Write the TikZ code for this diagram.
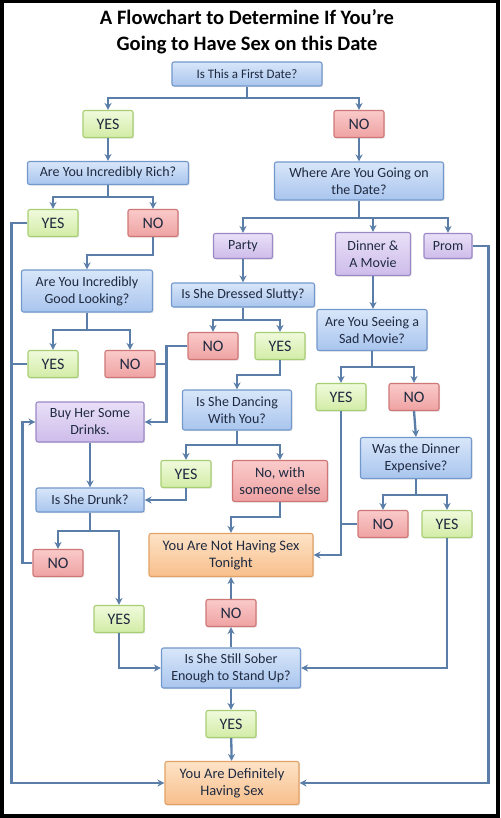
\documentclass[tikz,border=0pt]{standalone}
\usepackage{fontspec}
\setmainfont{Carlito}
\usetikzlibrary{arrows.meta,positioning,shadows}

\definecolor{txt}{HTML}{1F2A40}
\definecolor{wire}{HTML}{5A7EA8}
\definecolor{qtop}{HTML}{D8E6F9}
\definecolor{qbot}{HTML}{A9C5EE}
\definecolor{qline}{HTML}{7398CB}
\definecolor{gtop}{HTML}{F0FADC}
\definecolor{gbot}{HTML}{D2ECA6}
\definecolor{gline}{HTML}{A8CE74}
\definecolor{rtop}{HTML}{FACACA}
\definecolor{rbot}{HTML}{EFA2A2}
\definecolor{rline}{HTML}{CF7777}
\definecolor{ptop}{HTML}{E9E0F7}
\definecolor{pbot}{HTML}{CDBCEA}
\definecolor{pline}{HTML}{9C88C6}
\definecolor{otop}{HTML}{FDE3C7}
\definecolor{obot}{HTML}{F8BF8C}
\definecolor{oline}{HTML}{E3A265}

\begin{document}
\begin{tikzpicture}[
    x=1pt, y=1pt,
    base/.style={rectangle, rounded corners=2pt, line width=1.1pt, align=center,
                 text=txt, inner sep=1pt, font=\fontsize{14}{17}\selectfont,
                 drop shadow={opacity=0.2, shadow xshift=1.2pt, shadow yshift=-1.2pt}},
    qbox/.style={base, draw=qline, top color=qtop, bottom color=qbot},
    yesbox/.style={base, draw=gline, top color=gtop, bottom color=gbot,
                   minimum width=50, minimum height=27, font=\fontsize{16}{19}\selectfont},
    nobox/.style={base, draw=rline, top color=rtop, bottom color=rbot,
                  minimum width=50, minimum height=27, font=\fontsize{16}{19}\selectfont},
    actbox/.style={base, draw=pline, top color=ptop, bottom color=pbot},
    endbox/.style={base, draw=oline, top color=otop, bottom color=obot,
                   font=\fontsize{14.5}{17}\selectfont},
    sarr/.style={-{Stealth[length=7pt, width=7pt]}, line width=2.3pt, draw=wire},
    sline/.style={line width=2.3pt, draw=wire},
]

%% ── Frame ─────────────────────────────────────────────────────────────────────
\useasboundingbox (0,0) rectangle (500,-818);
\fill[black] (0,0) rectangle (500,-818);
\fill[white] (4,-3) rectangle (496,-814);

\node[font=\bfseries\fontsize{20.5}{26}\selectfont, align=center] (title) at (247,-32)
      {A Flowchart to Determine If You’re\\Going to Have Sex on this Date};

%% ── Top of the chart ──────────────────────────────────────────────────────────
\node[qbox, minimum width=150, minimum height=24, font=\fontsize{13}{16}\selectfont]
      (first) at (247,-74) {Is This a First Date?};
\node[yesbox] (y1) at (108,-124) {YES};
\node[nobox]  (n1) at (359,-124) {NO};

\node[qbox, minimum width=161, minimum height=23] (rich)  at (108,-173) {Are You Incredibly Rich?};
\node[qbox, minimum width=169, minimum height=38] (where) at (359,-181) {Where Are You Going on\\the Date?};

% Left branch
\node[yesbox] (y2) at (53,-223)  {YES};
\node[nobox]  (n2) at (153,-223) {NO};
\node[qbox, minimum width=131, minimum height=42] (good) at (87,-291) {Are You Incredibly\\Good Looking?};
\node[yesbox] (y3) at (53,-364)  {YES};
\node[nobox]  (n3) at (130,-364) {NO};

% Right branch
\node[actbox, minimum width=59, minimum height=25] (party)  at (243,-246) {Party};
\node[actbox, minimum width=75, minimum height=43] (dinner) at (373,-254) {Dinner \&\\A Movie};
\node[actbox, minimum width=48, minimum height=25] (prom)   at (448,-246) {Prom};

\node[qbox, minimum width=143, minimum height=24] (slutty) at (243,-295) {Is She Dressed Slutty?};
\node[qbox, minimum width=110, minimum height=41] (sad)    at (372,-330) {Are You Seeing a\\Sad Movie?};

\node[nobox]  (n4) at (213,-346) {NO};
\node[yesbox] (y4) at (280,-346) {YES};
\node[yesbox] (y5) at (341,-397) {YES};
\node[nobox]  (n5) at (414,-397) {NO};

%% ── Middle ────────────────────────────────────────────────────────────────────
\node[actbox, minimum width=108, minimum height=40] (drinks)  at (90,-422)  {Buy Her Some\\Drinks.};
\node[qbox,   minimum width=109, minimum height=40] (dancing) at (237,-410) {Is She Dancing\\With You?};
\node[yesbox] (y6) at (186,-474) {YES};
\node[nobox, minimum width=95, minimum height=41, font=\fontsize{14.5}{17}\selectfont]
      (n6) at (280,-481) {No, with\\someone else};
\node[qbox, minimum width=108, minimum height=24] (drunk)     at (90,-500)  {Is She Drunk?};
\node[qbox, minimum width=111, minimum height=41] (expensive) at (416,-458) {Was the Dinner\\Expensive?};
\node[nobox]  (n7) at (383,-524) {NO};
\node[yesbox] (y7) at (447,-524) {YES};

%% ── Bottom ────────────────────────────────────────────────────────────────────
\node[endbox, minimum width=164, minimum height=43] (notsex) at (231,-555) {You Are Not Having Sex\\Tonight};
\node[nobox]  (n8) at (58,-563)  {NO};
\node[yesbox] (y8) at (119,-619) {YES};
\node[nobox]  (n9) at (231,-613) {NO};
\node[qbox, minimum width=139, minimum height=40] (sober) at (231,-668) {Is She Still Sober\\Enough to Stand Up?};
\node[yesbox] (y9) at (231,-724) {YES};
\node[endbox, minimum width=134, minimum height=43] (defin) at (232,-783) {You Are Definitely\\Having Sex};

% Branch points
\coordinate (j1) at (247,-98);
\coordinate (j2) at (108,-197);
\coordinate (j3) at (87,-330);
\coordinate (j4) at (359,-218);
\coordinate (j5) at (243,-320);
\coordinate (j6) at (372,-367);
\coordinate (j7) at (237,-445);
\coordinate (j8) at (416,-495);
\coordinate (j9) at (90,-531);

%% ── Connectors ────────────────────────────────────────────────────────────────
\draw[sarr] (first.south) -- (j1) -| (y1.north);
\draw[sarr] (j1) -| (n1.north);
\draw[sarr] (y1) -- (rich);
\draw[sarr] (n1) -- (where);

\draw[sarr] (rich.south) -- (j2) -| (y2.north);
\draw[sarr] (j2) -| (n2.north);
\draw[sarr] (y2.west) -- ++(-16,0) |- (defin.west);
\draw[sarr] (n2.south) -- ++(0,-18) -| (good.north);
\draw[sarr] (good.south) -- (j3) -| (y3.north);
\draw[sarr] (j3) -| (n3.north);
\draw[sline] (y3.west) -- ++(-16,0);
\draw[sline] (n3.east) -- ++(12,0);

\draw[sarr] (where.south) -- (j4) -| (party.north);
\draw[sarr] (j4) -| (dinner.north);
\draw[sarr] (j4) -| (prom.north);
\draw[sarr] (prom.east) -- ++(16,0) |- (defin.east);
\draw[sarr] (party) -- (slutty);
\draw[sarr] (dinner.south) -- (dinner.south |- sad.north);

\draw[sarr] (slutty.south) -- (j5) -| (n4.north);
\draw[sarr] (j5) -| (y4.north);
\draw[sarr] (n4.west) -- ++(-21,0) |- (drinks.east);
\draw[sarr] (y4.south) -- ++(0,-15) -| (dancing.north);

\draw[sarr] (sad.south) -- (j6) -| (y5.north);
\draw[sarr] (j6) -| (n5.north);
\draw[sarr] (y5.south) |- (notsex.east);
\draw[sarr] (n5.south) -- (expensive.north);
\draw[sarr] (expensive.south) -- (j8) -| (n7.north);
\draw[sarr] (j8) -| (y7.north);
\draw[sline] (n7.west) -- (n7.west -| y5.south);
\draw[sarr] (y7.south) |- (sober.east);

\draw[sarr] (dancing.south) -- (j7) -| (y6.north);
\draw[sarr] (j7) -| (n6.north);
\draw[sarr] (y6.south) |- (drunk.east);
\draw[sarr] (n6.south) -- ++(0,-15) -| (notsex.north);

\draw[sarr] (drinks) -- (drunk);
\draw[sarr] (drunk.south) -- (j9) -| (n8.north);
\draw[sarr] (j9) -| (y8.north);
\draw[sarr] (n8.west) -- ++(-10,0) |- (drinks.west);
\draw[sarr] (y8.south) |- (sober.west);

\draw[sarr] (sober) -- (n9);
\draw[sarr] (n9) -- (notsex);
\draw[sarr] (sober) -- (y9);
\draw[sarr] (y9) -- (defin);

\end{tikzpicture}
\end{document}
